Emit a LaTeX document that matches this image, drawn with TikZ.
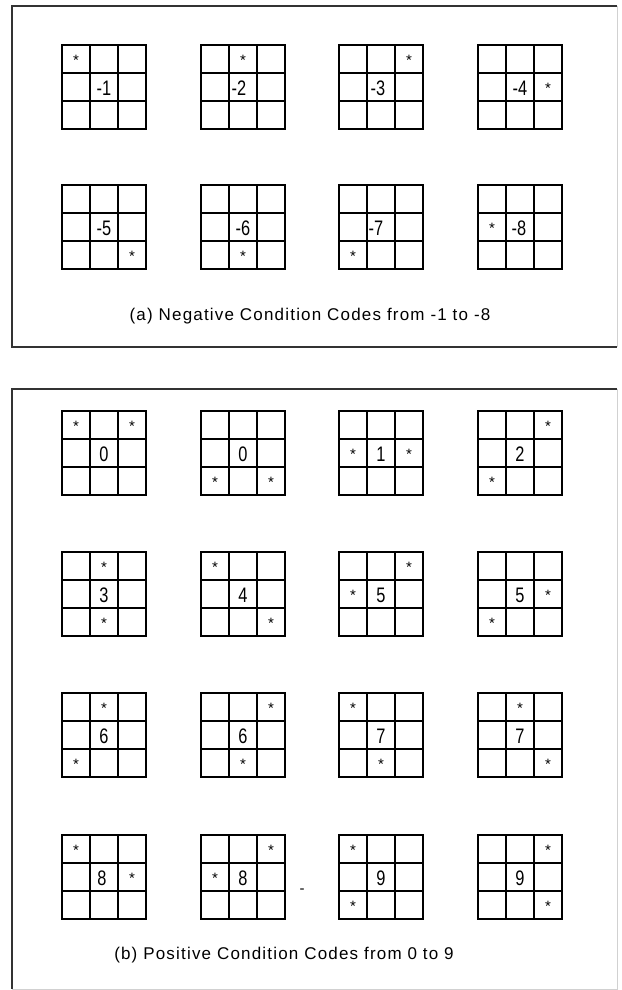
\documentclass[tikz,border=0pt]{standalone}
\usepackage{fontspec}
\setmainfont{Liberation Sans}
\newfontfamily\capfont[LetterSpace=7]{Liberation Sans}
\newcommand\cgrid[6]{%
\begin{scope}[shift={(#2,#3)}]
 \draw[gridline] (0,0) rectangle (84,84);
 \draw[gridline] (28,0) -- (28,84) (56,0) -- (56,84) (0,28) -- (84,28) (0,56) -- (84,56);
 \node[code] (#1) at (42+#5,43.5) {\scalebox{0.78}[1]{#4}};
 \foreach \r/\c [count=\k] in {#6} \node[star] (#1s\k) at (14+28*\c,15.5+28*\r) {*};
\end{scope}}
\begin{document}
\begin{tikzpicture}[x=1pt,y=-1pt,
 gridline/.style={line width=1.6pt, draw=black},
 panel/.style={line width=1.8pt, draw=black!80},
 faint/.style={line width=1pt, draw=black!18},
 code/.style={font=\fontsize{21}{21}\selectfont, inner sep=0pt},
 star/.style={font=\fontsize{15}{15}\selectfont, inner sep=0pt},
 caption/.style={font=\capfont\fontsize{17}{17}\selectfont, inner sep=0pt}]
\useasboundingbox (0,0) rectangle (621,990);
\fill[white] (0,0) rectangle (621,990);
% panels
\draw[panel] (617,6) -- (12,6) -- (12,347) -- (617,347);
\draw[faint] (617,6) -- (617,347);
\draw[panel] (617,389) -- (12,389) -- (12,989);
\draw[faint] (12,989) -- (617,989) -- (617,389);
% (a) negative codes
\cgrid{n1}{62}{45}{-1}{0}{0/0}
\cgrid{n2}{201}{45}{-2}{-4}{0/1}
\cgrid{n3}{339}{45}{-3}{-3}{0/2}
\cgrid{n4}{478}{45}{-4}{0}{1/2}
\cgrid{n5}{62}{185}{-5}{0}{2/2}
\cgrid{n6}{201}{185}{-6}{0}{2/1}
\cgrid{n7}{339}{185}{-7}{-5}{2/0}
\cgrid{n8}{478}{185}{-8}{-1}{1/0}
\node[caption] (capa) at (310,316) {(a) Negative Condition Codes from -1 to -8};
% (b) positive codes
\cgrid{p0a}{62}{411}{0}{0}{0/0,0/2}
\cgrid{p0b}{201}{411}{0}{0}{2/0,2/2}
\cgrid{p1}{339}{411}{1}{0}{1/0,1/2}
\cgrid{p2}{478}{411}{2}{0}{0/2,2/0}
\cgrid{p3}{62}{552}{3}{0}{0/1,2/1}
\cgrid{p4}{201}{552}{4}{0}{0/0,2/2}
\cgrid{p5a}{339}{552}{5}{0}{0/2,1/0}
\cgrid{p5b}{478}{552}{5}{0}{1/2,2/0}
\cgrid{p6a}{62}{693}{6}{0}{0/1,2/0}
\cgrid{p6b}{201}{693}{6}{0}{0/2,2/1}
\cgrid{p7a}{339}{693}{7}{0}{0/0,2/1}
\cgrid{p7b}{478}{693}{7}{0}{0/1,2/2}
\cgrid{p8a}{62}{835}{8}{-2}{0/0,1/2}
\cgrid{p8b}{201}{835}{8}{0}{0/2,1/0}
\cgrid{p9a}{339}{835}{9}{0}{0/0,2/0}
\cgrid{p9b}{478}{835}{9}{0}{0/2,2/2}
\node[font=\fontsize{15}{15}\selectfont, inner sep=0pt] (dash) at (302,891) {-};
\node[caption] (capb) at (284,955) {(b) Positive Condition Codes from 0 to 9};
\end{tikzpicture}
\end{document}
